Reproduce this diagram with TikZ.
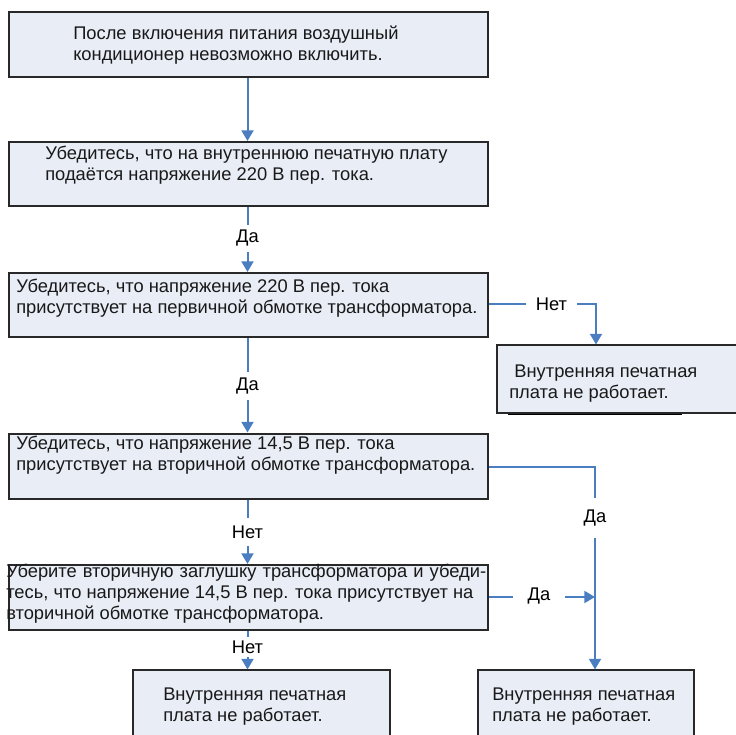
\documentclass[tikz,border=0pt]{standalone}
\usepackage{fontspec}
\setmainfont{Liberation Sans}
\usetikzlibrary{arrows.meta}
\definecolor{lineblue}{RGB}{74,126,193}
\definecolor{boxfill}{RGB}{233,237,246}
\definecolor{boxline}{RGB}{40,40,40}
\tikzset{
  mainbox/.style={draw=boxline, line width=1.5pt, fill=boxfill, inner sep=0pt},
  endbox/.style={draw=boxline, line width=0.8pt, fill=boxfill, inner sep=0pt},
  txt/.style={inner sep=0pt, anchor=base west, align=left, text=black!90,
    font=\fontsize{13.75pt}{15.75pt}\selectfont},
  conn/.style={draw=lineblue, line width=1.5pt},
  arr/.style={conn, -{Triangle[width=9pt,length=8pt]}},
  lbl/.style={inner sep=0pt, font=\fontsize{13.75pt}{15pt}\selectfont, text=black}
}
\begin{document}
\begin{tikzpicture}[x=0.75pt, y=-0.75pt]
\useasboundingbox (0,0) rectangle (736,735);
% boxes (text nodes are anchored at the baseline of their last line)
\node[mainbox, minimum width=479*0.75pt, minimum height=65*0.75pt] (b1) at (248.5,44.5) {};
\node[txt] (t1) at (73,61) {После включения питания воздушный\\кондиционер невозможно включить.};

\node[mainbox, minimum width=479*0.75pt, minimum height=64*0.75pt] (b2) at (248.5,174) {};
\node[txt] (t2) at (45,180.5) {Убедитесь, что на внутреннюю печатную плату\\подаётся напряжение 220 В пер. тока.};

\node[mainbox, minimum width=479*0.75pt, minimum height=64*0.75pt] (b3) at (248.5,305) {};
\node[txt] (t3) at (16,313) {Убедитесь, что напряжение 220 В пер. тока\\присутствует на первичной обмотке трансформатора.};

\draw[draw=black, line width=1.6pt] (508,414) -- (682,414);
\node[endbox, minimum width=250*0.75pt, minimum height=68*0.75pt] (b4) at (622,379) {};
\node[txt] (t4) at (509,398) {\ Внутренняя печатная\\плата не работает.};

\node[mainbox, minimum width=479*0.75pt, minimum height=65*0.75pt] (b5) at (248.5,466) {};
\node[txt] (t5) at (16,470) {Убедитесь, что напряжение 14,5 В пер. тока\\присутствует на вторичной обмотке трансформатора.};

\node[mainbox, minimum width=479*0.75pt, minimum height=65*0.75pt] (b6) at (248.5,597.5) {};
\node[txt] (t6) at (6,619) {\makebox[360pt][s]{Уберите вторичную заглушку трансформатора и убеди-}\\тесь, что напряжение 14,5 В пер. тока присутствует на\\вторичной обмотке трансформатора.};

\node[endbox, minimum width=257*0.75pt, minimum height=80*0.75pt] (b8) at (261.5,710) {};
\node[txt] (t8) at (163,721) {Внутренняя печатная\\плата не работает.};

\node[endbox, minimum width=216*0.75pt, minimum height=80*0.75pt] (b7) at (586,710) {};
\node[txt] (t7) at (492,721) {Внутренняя печатная\\плата не работает.};

% labels
\node[lbl, minimum height=27*0.75pt] (l1) at (247.5,238.5) {Да};
\node[lbl, minimum width=51*0.75pt] (l2) at (551.5,304) {Нет};
\node[lbl, minimum height=28*0.75pt] (l3) at (247.5,386) {Да};
\node[lbl, minimum height=40*0.75pt] (l4) at (595,518) {Да};
\node[lbl, minimum height=28*0.75pt] (l5) at (247.5,532) {Нет};
\node[lbl, minimum width=52*0.75pt] (l6) at (539,596) {Да};
\node[lbl, minimum height=20*0.75pt] (l7) at (247.5,647) {Нет};

\coordinate (c2) at (596,304);
\coordinate (c4) at (595,467);
\coordinate (j6) at (595,597);
\coordinate (v1) at (247.5,300);

% connectors
\draw[arr] (v1 |- b1.south) -- (v1 |- b2.north);
\draw[conn] (v1 |- b2.south) -- (l1.north);
\draw[arr] (l1.south) -- (l1.south |- b3.north);
\draw[conn] (b3.east |- c2) -- (l2.west);
\draw[arr] (l2.east |- c2) -- (c2) -- (c2 |- b4.north);
\draw[conn] (v1 |- b3.south) -- (l3.north);
\draw[arr] (l3.south) -- (l3.south |- b5.north);
\draw[conn] (b5.east |- c4) -- (c4) -- (l4.north);
\draw[arr] (l4.south) -- (l4.south |- b7.north);
\draw[conn] (v1 |- b5.south) -- (l5.north);
\draw[arr] (l5.south) -- (l5.south |- b6.north);
\draw[conn] (b6.east |- j6) -- (l6.west |- j6);
\draw[arr] (l6.east |- j6) -- (j6);
\draw[conn] (v1 |- b6.south) -- (l7.north);
\draw[arr] (l7.south) -- (l7.south |- b8.north);
\end{tikzpicture}
\end{document}
